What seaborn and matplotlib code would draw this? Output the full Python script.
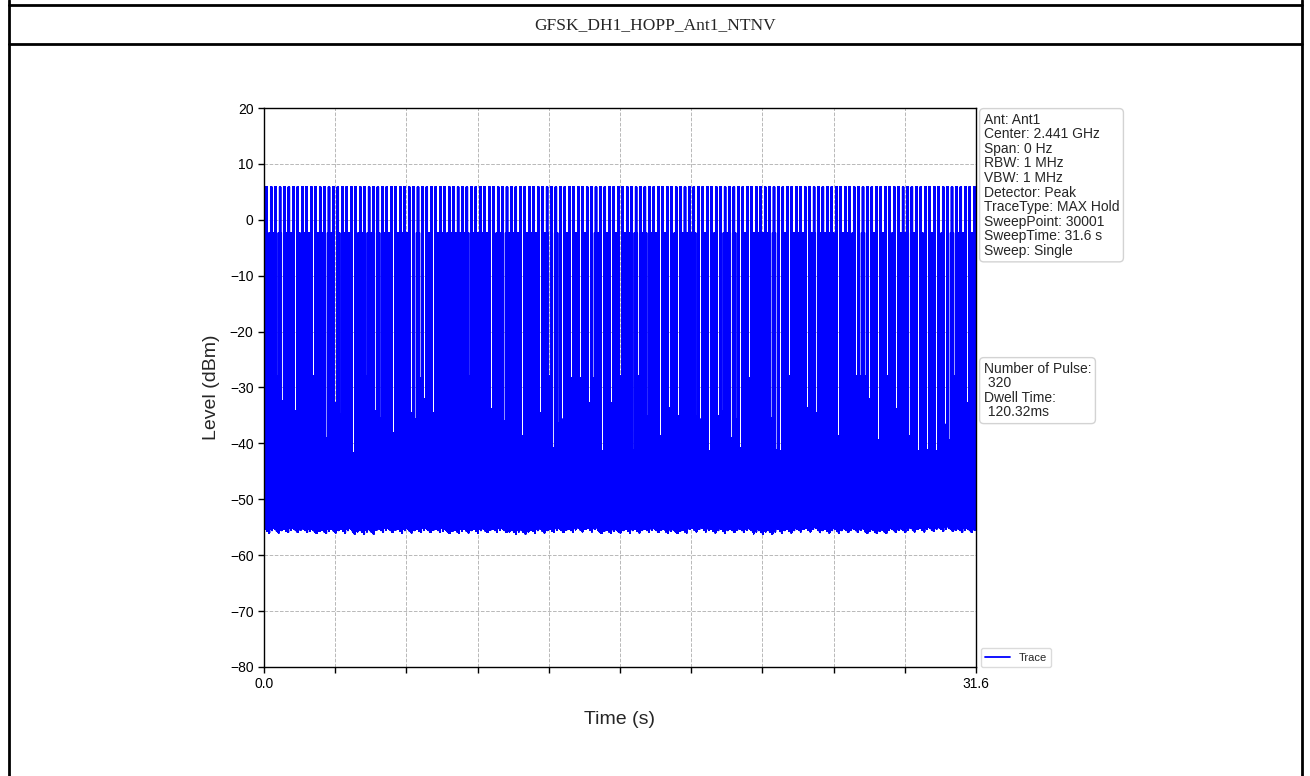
"""
Recreate the GFSK_DH1_HOPP_Ant1_NTNV zero-span trace (dwell time plot).
"""

import numpy as np
import pandas as pd
import matplotlib
matplotlib.use("Agg")
import matplotlib.pyplot as plt
import seaborn as sns
from matplotlib.lines import Line2D

# sweep settings (from the info box)
SWEEP_TIME = 31.6
SWEEP_POINTS = 30001

# levels, dBm
burst_level = 5.9
hop_level = -2.3

# comb of strong bursts reaching ~6 dBm
burst_count = 160
first_burst = 0.12      # s
burst_spacing = 0.1975  # s
burst_width = 0.06      # s

# noise floor, one reading per ~1 s of sweep
floor_levels = [-54.8, -54.7, -54.9, -54.8, -55.0, -54.7, -54.8, -54.7,
                -54.9, -54.8, -54.7, -55.0, -54.8, -54.7, -54.6, -54.9,
                -54.8, -54.7, -54.9, -54.6, -54.8, -54.7, -55.0, -54.8,
                -54.6, -54.8, -54.7, -54.9, -54.7, -54.6, -54.5, -54.7]
# pixel-scale jitter of the floor edge, dB below the floor reading
floor_ripple = [0.0, 0.6, 0.3, 0.9, 0.2, 1.2, 0.5, 0.1, 0.8, 0.4]

# dropouts in the band: time (s) and lowest level reached there (dBm)
gap_times = [0.22, 0.62, 0.84, 1.41, 1.51, 2.10, 2.29, 2.69, 3.21, 3.39,
             3.77, 3.98, 4.17, 4.57, 4.88, 5.06, 5.16, 5.84, 6.54, 6.73,
             6.91, 7.16, 7.53, 7.68, 8.21, 9.01, 9.16, 10.09, 10.28, 10.68,
             11.57, 11.75, 12.35, 12.65, 12.86, 13.05, 13.24, 13.64, 14.08, 14.34,
             14.57, 15.12, 15.49, 15.79, 16.39, 16.58, 17.01, 17.69, 17.87, 17.97,
             18.27, 18.39, 19.13, 19.39, 19.57, 19.75, 19.96, 20.16, 20.34, 20.85,
             21.02, 21.25, 21.47, 22.53, 22.72, 22.92, 23.31, 23.49, 24.20, 24.60,
             25.30, 25.49, 25.67, 26.08, 26.26, 26.47, 26.64, 26.97, 27.18, 27.37,
             27.59, 27.77, 28.15, 28.66, 29.04, 29.22, 29.44, 29.63, 29.93, 30.12,
             30.33, 30.52, 30.72, 31.14, 31.30]
gap_depths = [-34.5, -28.0, -32.4, -34.2, -27.7, -35.7, -28.0, -39.0, -32.7, -34.8,
              -33.6, -41.7, -34.5, -28.0, -34.2, -38.4, -35.4, -38.1, -34.5, -35.7,
              -28.3, -32.1, -34.5, -33.9, -28.3, -38.7, -28.0, -33.9, -40.8, -36.0,
              -38.7, -38.4, -34.5, -28.0, -40.8, -36.3, -35.7, -28.3, -28.3, -32.7,
              -28.3, -41.4, -32.7, -28.0, -41.1, -28.0, -35.1, -38.7, -39.6, -33.6,
              -40.8, -35.1, -35.1, -35.7, -41.4, -41.4, -34.5, -35.1, -34.2, -39.0,
              -35.7, -40.8, -28.3, -35.4, -41.1, -41.4, -28.0, -28.0, -33.6, -34.5,
              -28.0, -38.7, -28.0, -40.8, -28.0, -28.0, -28.0, -32.1, -28.0, -39.3,
              -28.0, -38.4, -33.9, -38.7, -41.4, -41.7, -41.1, -36.6, -41.4, -33.6,
              -36.6, -39.3, -28.0, -33.9, -32.7]
gap_width = 0.1  # s

info_text = ("Ant: Ant1\nCenter: 2.441 GHz\nSpan: 0 Hz\nRBW: 1 MHz\nVBW: 1 MHz\n"
             "Detector: Peak\nTraceType: MAX Hold\nSweepPoint: 30001\n"
             "SweepTime: 31.6 s\nSweep: Single")
pulse_text = "Number of Pulse:\n 320\nDwell Time:\n 120.32ms"


def build_trace():
    t = np.linspace(0, SWEEP_TIME, SWEEP_POINTS)
    idx = np.arange(SWEEP_POINTS)

    seg = np.minimum((t / SWEEP_TIME * len(floor_levels)).astype(int), len(floor_levels) - 1)
    low = np.array(floor_levels)[seg] - np.array(floor_ripple)[(idx // 40) % len(floor_ripple)]

    high = np.full(SWEEP_POINTS, hop_level)
    for k in range(burst_count):
        c = first_burst + k * burst_spacing
        high[np.abs(t - c) <= burst_width / 2] = burst_level
    # a dropout sits in the quiet slot between two bursts
    for gt, gd in zip(gap_times, gap_depths):
        slot = np.floor((gt - first_burst) / burst_spacing) + 0.5
        mid = first_burst + slot * burst_spacing
        high[np.abs(t - mid) <= gap_width / 2] = gd

    # max-hold trace flips between floor and peak sample to sample
    level = np.where(idx % 2 == 0, low, high)
    return pd.DataFrame({"Time (s)": t, "Level (dBm)": level})


def main():
    sns.set_style("white")
    plt.rcParams["font.family"] = ["Liberation Sans", "DejaVu Sans"]
    plt.rcParams["path.simplify"] = False

    df = build_trace()

    fig = plt.figure(figsize=(13.1, 7.76), dpi=100)
    W, H = 1310, 776
    ax = fig.add_axes([264 / W, 1 - 667 / H, 712 / W, 559 / H])

    sns.lineplot(data=df, x="Time (s)", y="Level (dBm)", estimator=None, sort=False,
                 color="blue", linewidth=0.7, label="Trace", ax=ax)

    ax.set_xlim(0, SWEEP_TIME)
    ax.set_ylim(-80, 20)
    xt = [SWEEP_TIME * i / 10 for i in range(11)]
    ax.set_xticks(xt)
    ax.set_xticklabels(["0.0"] + [""] * 9 + ["31.6"])
    ax.set_yticks(range(-80, 21, 10))
    ax.tick_params(axis="both", direction="out", length=4, width=1, labelsize=10,
                   colors="black", bottom=True, left=True)
    ax.set_axisbelow(True)
    ax.grid(True, linestyle="--", color="#b8b8b8", linewidth=0.7)
    for sp in ax.spines.values():
        sp.set_color("black")
        sp.set_linewidth(1.0)
    ax.set_xlabel("Time (s)", fontsize=14, labelpad=14)
    ax.set_ylabel("Level (dBm)", fontsize=14, labelpad=7)

    box = dict(boxstyle="round,pad=0.3", facecolor="white", edgecolor="lightgray", linewidth=1)
    ax.text(1.0109, 0.9915, info_text, transform=ax.transAxes, fontsize=10,
            va="top", ha="left", bbox=box, linespacing=1.05)
    ax.text(1.0109, 0.546, pulse_text, transform=ax.transAxes, fontsize=10,
            va="top", ha="left", bbox=box, linespacing=1.05)

    leg = ax.legend(loc="lower left", bbox_to_anchor=(1.007, 0.0), borderaxespad=0,
                    fontsize=8, handlelength=2.2, frameon=True, edgecolor="lightgray",
                    fancybox=True)
    for h in leg.get_lines():
        h.set_linewidth(1.3)

    # table frame around the figure
    def fig_line(x0, y0, x1, y1):
        fig.add_artist(Line2D([x0 / W, x1 / W], [1 - y0 / H, 1 - y1 / H],
                              transform=fig.transFigure, color="black", linewidth=2))

    fig_line(9, 0, 9, H)
    fig_line(1302, 0, 1302, H)
    fig_line(9, 5, 1302, 5)
    fig_line(9, 44, 1302, 44)
    fig.text(655.5 / W, 1 - 25 / H, "GFSK_DH1_HOPP_Ant1_NTNV", ha="center", va="center",
             fontsize=12.5, family=["Liberation Serif", "DejaVu Serif"])

    fig.savefig("out.png", dpi=100, facecolor="white")
    plt.close(fig)


if __name__ == "__main__":
    main()
